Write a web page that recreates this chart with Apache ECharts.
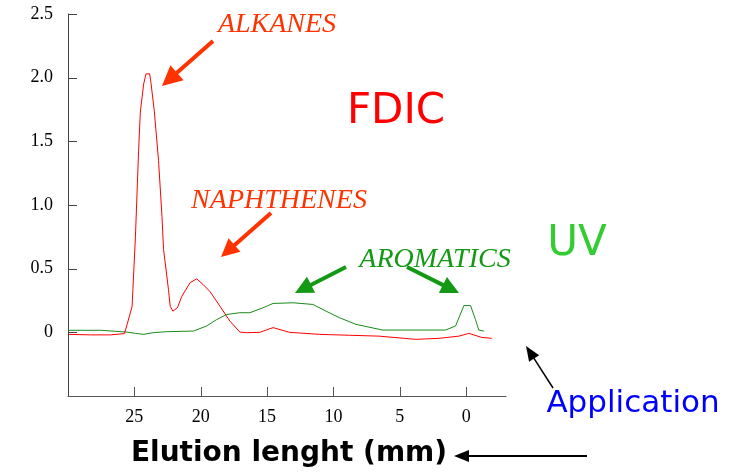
<!DOCTYPE html>
<html>
<head>
<meta charset="utf-8">
<script src="https://cdn.jsdelivr.net/npm/echarts@6/dist/echarts.min.js"></script>
<style>html,body{margin:0;padding:0;background:#fff}#c{width:740px;height:476px}</style>
</head>
<body>
<div id="c"></div>
<script>
// FDIC (red) trace: elution length (mm), signal
var fdicX = [29.95, 28.3, 26.8, 25.75, 25.55, 25.17, 24.92, 24.68, 24.55, 24.3, 24.12, 23.85, 23.75, 23.5, 23.18, 22.92, 22.8, 22.43, 22.3, 22.1, 21.75, 21.42, 20.8, 20.3, 19.82, 19.3, 18.55, 17.8, 17.05, 16.55, 15.55, 14.55, 13.3, 11.05, 8.8, 6.55, 3.8, 2.05, 0.55, -0.2, -1.18, -1.93];
var fdicY = [-0.016, -0.02, -0.02, -0.01, 0.06, 0.205, 0.75, 1.43, 1.73, 1.95, 2.03, 2.03, 1.96, 1.74, 1.35, 0.91, 0.65, 0.336, 0.205, 0.166, 0.195, 0.284, 0.39, 0.42, 0.375, 0.32, 0.205, 0.088, 0.002, -0.003, 0, 0.037, 0, -0.016, -0.023, -0.03, -0.055, -0.047, -0.03, -0.008, -0.04, -0.047];
// UV (green) trace
var uvX = [29.95, 27.55, 25.55, 24.92, 24.3, 23.55, 22.55, 20.55, 19.55, 18.8, 18.05, 17.05, 16.3, 15.3, 14.55, 13.05, 11.55, 10.55, 9.55, 8.3, 6.3, 1.55, 0.8, 0.17, -0.33, -0.7, -0.95, -1.33];
var uvY = [0.016, 0.016, 0.002, -0.008, -0.016, -0.002, 0.005, 0.01, 0.05, 0.10, 0.14, 0.154, 0.154, 0.193, 0.227, 0.232, 0.219, 0.166, 0.115, 0.0625, 0.018, 0.018, 0.05, 0.21, 0.21, 0.10, 0.018, 0.01];
var xTicks = [0, 5, 10, 15, 20, 25];
var yTicks = [0, 0.5, 1, 1.5, 2, 2.5];

function zip(a, b) { return a.map(function (v, i) { return [v, b[i]]; }); }

function arrow(x1, y1, x2, y2, color, w, hl, hw) {
  var dx = x2 - x1, dy = y2 - y1, L = Math.sqrt(dx * dx + dy * dy);
  var ux = dx / L, uy = dy / L, px = -uy, py = ux;
  var bx = x2 - ux * hl, by = y2 - uy * hl;
  return [
    { type: 'line', shape: { x1: x1, y1: y1, x2: bx + ux * 2, y2: by + uy * 2 }, style: { stroke: color, lineWidth: w } },
    { type: 'polygon', shape: { points: [[x2, y2], [bx + px * hw / 2, by + py * hw / 2], [bx - px * hw / 2, by - py * hw / 2]] }, style: { fill: color } }
  ];
}

var orange = '#ff3300', green = '#139913';
function annotations() {
  return [].concat(
    arrow(213, 41, 162, 86, orange, 4, 20, 20),
    arrow(271, 213, 221, 257, orange, 4, 18, 18),
    arrow(346, 267, 295, 293, green, 4, 18, 18),
    arrow(407, 267, 459, 293, green, 4, 18, 18),
    arrow(553, 388, 526, 346, '#000', 1.5, 15, 12),
    arrow(587, 456, 454, 456, '#000', 2, 15, 12),
    [
      { type: 'text', x: 277, y: 25, style: { text: 'ALKANES', font: 'italic 28px "Liberation Serif"', fill: orange, align: 'center', verticalAlign: 'middle' } },
      { type: 'text', x: 279, y: 201, style: { text: 'NAPHTHENES', font: 'italic 28px "Liberation Serif"', fill: orange, align: 'center', verticalAlign: 'middle' } },
      { type: 'text', x: 435, y: 260, style: { text: 'AROMATICS', font: 'italic 28px "Liberation Serif"', fill: green, align: 'center', verticalAlign: 'middle' } },
      { type: 'text', x: 396, y: 112, style: { text: 'FDIC', font: '42px "DejaVu Sans"', fill: '#ff0000', align: 'center', verticalAlign: 'middle' } },
      { type: 'text', x: 577, y: 244, style: { text: 'UV', font: '42px "DejaVu Sans"', fill: '#33cc33', align: 'center', verticalAlign: 'middle' } },
      { type: 'text', x: 633, y: 404, style: { text: 'Application', font: '31px "DejaVu Sans"', fill: '#0000ff', align: 'center', verticalAlign: 'middle' } },
      { type: 'text', x: 289, y: 454, style: { text: 'Elution lenght (mm)', font: 'bold 28px "DejaVu Sans"', fill: '#000', align: 'center', verticalAlign: 'middle' } }
    ]
  );
}

var G = { left: 68, top: 14, right: 234, bottom: 80 };
var X_MIN = -3, X_MAX = 30, Y_MIN = -0.5, Y_MAX = 2.5;

function buildOption(extra) {
  return {
    animation: false,
    backgroundColor: '#fff',
    grid: { left: G.left, top: G.top, right: G.right, bottom: G.bottom, containLabel: false },
    xAxis: {
      type: 'value', inverse: true, min: X_MIN, max: X_MAX,
      splitLine: { show: false },
      axisLine: { show: true, onZero: false, lineStyle: { color: '#555', width: 1 } },
      axisTick: { show: false },
      axisLabel: { show: true, customValues: xTicks, color: '#000', fontFamily: 'Liberation Serif', fontSize: 18, margin: 12 }
    },
    yAxis: {
      type: 'value', min: Y_MIN, max: Y_MAX, interval: 0.5,
      splitLine: { show: false },
      axisLine: { show: true, onZero: false, lineStyle: { color: '#444', width: 1 } },
      axisTick: { show: false },
      axisLabel: {
        color: '#000', fontFamily: 'Liberation Serif', fontSize: 18, margin: 15,
        formatter: function (v) { if (v < 0) return ''; return v === 0 ? '0' : v.toFixed(1); }
      }
    },
    series: [
      { type: 'line', data: zip(uvX, uvY), symbol: 'none', lineStyle: { color: '#1a8a1a', width: 1 }, z: 2 },
      { type: 'line', data: zip(fdicX, fdicY), symbol: 'none', lineStyle: { color: '#ff0000', width: 1 }, z: 3 }
    ],
    graphic: { elements: annotations().concat(extra) }
  };
}

var chart = echarts.init(document.getElementById('c'));
chart.setOption(buildOption([]));

// pixel positions of tick values, taken from the chart's scales (with a geometric fallback)
var W = 740 - G.left - G.right, H = 476 - G.top - G.bottom;
function px(v) {
  var r = null;
  try { r = chart.convertToPixel({ xAxisIndex: 0 }, v); } catch (e) { r = null; }
  if (typeof r !== 'number' || !isFinite(r)) r = G.left + (X_MAX - v) / (X_MAX - X_MIN) * W;
  return r;
}
function py(v) {
  var r = null;
  try { r = chart.convertToPixel({ yAxisIndex: 0 }, v); } catch (e) { r = null; }
  if (typeof r !== 'number' || !isFinite(r)) r = G.top + (Y_MAX - v) / (Y_MAX - Y_MIN) * H;
  return r;
}
var axisY = py(Y_MIN), axisX = px(X_MAX);
var tickEls = [];
xTicks.forEach(function (v) {
  var x = Math.round(px(v)) + 0.5;
  tickEls.push({ type: 'line', z: 100, shape: { x1: x, y1: axisY, x2: x, y2: axisY - 9 }, style: { stroke: '#555', lineWidth: 1 } });
});
yTicks.forEach(function (v) {
  var y = Math.round(py(v)) + 0.5;
  tickEls.push({ type: 'line', z: 100, shape: { x1: axisX, y1: y, x2: axisX + 9, y2: y }, style: { stroke: '#444', lineWidth: 1 } });
});
chart.setOption(buildOption(tickEls), { notMerge: true });
</script>
</body>
</html>
